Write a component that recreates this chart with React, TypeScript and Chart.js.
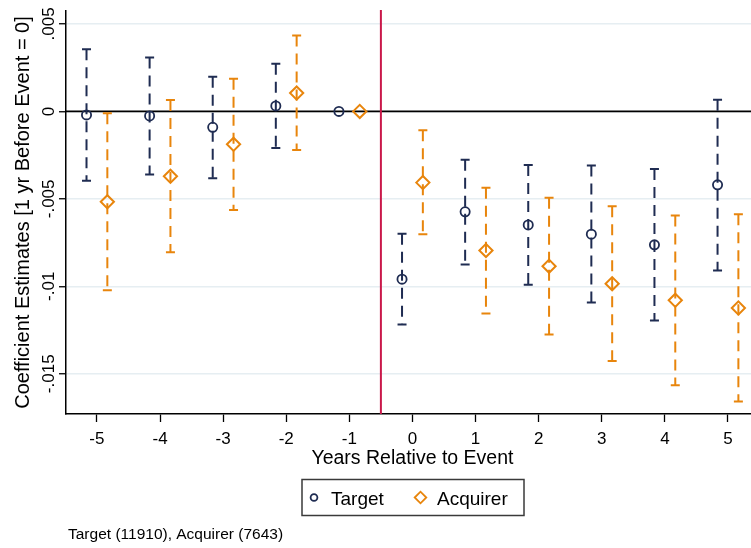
import React, { useEffect, useRef } from "react";
import { Chart, registerables } from "chart.js";

Chart.register(...registerables);

// ---- data ----
const YEARS = [-5, -4, -3, -2, -1, 0, 1, 2, 3, 4, 5];
const X_TICK_LABELS = ["-5", "-4", "-3", "-2", "-1", "0", "1", "2", "3", "4", "5"];
const Y_TICKS = [-0.015, -0.01, -0.005, 0, 0.005];
const Y_TICK_LABELS = ["-.015", "-.01", "-.005", "0", ".005"];

const TARGET_EST = [-0.0002, -0.00026, -0.00091, 0.00031, 0, -0.00959, -0.00574, -0.00649, -0.00702, -0.00763, -0.0042];
const TARGET_LO = [-0.00397, -0.00361, -0.00382, -0.00209, null, -0.01218, -0.00875, -0.00991, -0.01092, -0.01195, -0.00909];
const TARGET_HI = [0.00356, 0.00308, 0.00198, 0.00272, null, -0.007, -0.00276, -0.00306, -0.0031, -0.00329, 0.00067];

const ACQ_EST = [-0.00517, -0.00371, -0.00188, 0.00105, 0, -0.00407, -0.00795, -0.00885, -0.00985, -0.0108, -0.01124];
const ACQ_LO = [-0.01022, -0.00805, -0.00563, -0.0022, null, -0.00702, -0.01155, -0.01276, -0.01427, -0.01566, -0.01659];
const ACQ_HI = [-0.00011, 0.00065, 0.00187, 0.00434, null, -0.00108, -0.00436, -0.00494, -0.00542, -0.00595, -0.00588];

const SERIES_NAMES = ["Target", "Acquirer"];
const X_TITLE = "Years Relative to Event";
const Y_TITLE = "Coefficient Estimates [1 yr Before Event = 0]";
const NOTE = "Target (11910), Acquirer (7643)";
const EVENT_LINE = -0.5;

// ---- style ----
const TARGET_OFFSET = -0.165;
const ACQ_OFFSET = 0.165;
const NAVY = "#1f2c52";
const ORANGE = "#e8850c";
const RED = "#c9184a";
const GRID = "#e6eef2";
const FONT = '"Liberation Sans", Arial, Helvetica, sans-serif';

export default function App() {
  const ref = useRef<HTMLCanvasElement>(null);

  useEffect(() => {
    const canvas = ref.current;
    if (!canvas) return;

    const drawDiamond = (ctx: CanvasRenderingContext2D, x: number, y: number, r: number) => {
      ctx.beginPath();
      ctx.moveTo(x - r, y);
      ctx.lineTo(x, y - r);
      ctx.lineTo(x + r, y);
      ctx.lineTo(x, y + r);
      ctx.closePath();
      ctx.stroke();
    };

    const decorPlugin = {
      id: "decor",
      beforeDatasetsDraw(chart: any) {
        const { ctx, chartArea } = chart;
        const xs = chart.scales.x;
        const ys = chart.scales.y;
        ctx.save();
        // zero line
        const y0 = ys.getPixelForValue(0);
        ctx.strokeStyle = "#000";
        ctx.lineWidth = 1.6;
        ctx.beginPath();
        ctx.moveTo(chartArea.left, y0);
        ctx.lineTo(chartArea.right, y0);
        ctx.stroke();
        // event line
        const xe = xs.getPixelForValue(EVENT_LINE);
        ctx.strokeStyle = RED;
        ctx.lineWidth = 2;
        ctx.beginPath();
        ctx.moveTo(xe, chartArea.top - 1);
        ctx.lineTo(xe, chartArea.bottom);
        ctx.stroke();
        // error bars
        const series = [
          { off: TARGET_OFFSET, lo: TARGET_LO, hi: TARGET_HI, color: NAVY },
          { off: ACQ_OFFSET, lo: ACQ_LO, hi: ACQ_HI, color: ORANGE },
        ];
        series.forEach((s) => {
          ctx.strokeStyle = s.color;
          ctx.lineWidth = 2;
          YEARS.forEach((yr, i) => {
            const lo = s.lo[i];
            const hi = s.hi[i];
            if (lo === null || hi === null) return;
            const px = xs.getPixelForValue(yr + s.off);
            const pHi = ys.getPixelForValue(hi);
            const pLo = ys.getPixelForValue(lo);
            ctx.setLineDash([11, 7]);
            ctx.beginPath();
            ctx.moveTo(px, pHi);
            ctx.lineTo(px, pLo);
            ctx.stroke();
            ctx.setLineDash([]);
            ctx.beginPath();
            ctx.moveTo(px - 4.5, pHi);
            ctx.lineTo(px + 4.5, pHi);
            ctx.moveTo(px - 4.5, pLo);
            ctx.lineTo(px + 4.5, pLo);
            ctx.stroke();
          });
        });
        ctx.restore();
      },
      afterDraw(chart: any) {
        const { ctx, chartArea } = chart;
        const xs = chart.scales.x;
        const ys = chart.scales.y;
        ctx.save();
        ctx.fillStyle = "#000";
        // x tick labels
        ctx.font = `17px ${FONT}`;
        ctx.textAlign = "center";
        ctx.textBaseline = "alphabetic";
        YEARS.forEach((v, i) => {
          ctx.fillText(X_TICK_LABELS[i], xs.getPixelForValue(v), 443.5);
        });
        // y tick labels (rotated)
        Y_TICKS.forEach((v, i) => {
          ctx.save();
          ctx.translate(54, ys.getPixelForValue(v));
          ctx.rotate(-Math.PI / 2);
          ctx.textAlign = "center";
          ctx.fillText(Y_TICK_LABELS[i], 0, 0);
          ctx.restore();
        });
        // x title
        ctx.font = `19.5px ${FONT}`;
        ctx.textAlign = "center";
        ctx.fillText(X_TITLE, xs.getPixelForValue(0), 464);
        // y title
        ctx.save();
        ctx.font = `20px ${FONT}`;
        ctx.translate(28.5, (chartArea.top + chartArea.bottom) / 2);
        ctx.rotate(-Math.PI / 2);
        ctx.textAlign = "center";
        ctx.fillText(Y_TITLE, 0, 0);
        ctx.restore();
        // legend
        const lx = 302, ly = 479.5, lw = 222, lh = 36;
        ctx.strokeStyle = "#3a3a3a";
        ctx.lineWidth = 1.5;
        ctx.strokeRect(lx, ly, lw, lh);
        const cy = ly + lh / 2;
        ctx.strokeStyle = NAVY;
        ctx.lineWidth = 1.8;
        ctx.beginPath();
        ctx.arc(314, cy, 3.4, 0, Math.PI * 2);
        ctx.stroke();
        ctx.strokeStyle = ORANGE;
        ctx.lineWidth = 1.8;
        drawDiamond(ctx, 420.5, cy, 5.8);
        ctx.font = `19px ${FONT}`;
        ctx.textAlign = "left";
        ctx.fillStyle = "#000";
        ctx.fillText(SERIES_NAMES[0], 331, 505);
        ctx.fillText(SERIES_NAMES[1], 437, 505);
        // note
        ctx.font = `15.5px ${FONT}`;
        ctx.fillText(NOTE, 68, 538.5);
        ctx.restore();
      },
    };

    const chart = new Chart(canvas, {
      type: "scatter",
      data: {
        datasets: [
          {
            label: SERIES_NAMES[0],
            data: YEARS.map((yr, i) => ({ x: yr + TARGET_OFFSET, y: TARGET_EST[i] })),
            pointStyle: "circle",
            radius: 4.6,
            borderWidth: 1.8,
            borderColor: NAVY,
            backgroundColor: "rgba(0,0,0,0)",
            showLine: false,
          },
          {
            label: SERIES_NAMES[1],
            data: YEARS.map((yr, i) => ({ x: yr + ACQ_OFFSET, y: ACQ_EST[i] })),
            pointStyle: "rectRot",
            radius: 6.6,
            borderWidth: 2,
            borderColor: ORANGE,
            backgroundColor: "rgba(0,0,0,0)",
            showLine: false,
          },
        ],
      },
      options: {
        responsive: false,
        animation: false,
        devicePixelRatio: 1,
        layout: { autoPadding: false, padding: { top: 11, left: 0, right: 0, bottom: 0 } },
        plugins: {
          legend: { display: false },
          tooltip: { enabled: false },
          title: { display: false },
        },
        scales: {
          x: {
            type: "linear",
            min: -5.49,
            max: 5.365,
            afterBuildTicks: (s: any) => {
              s.ticks = YEARS.map((v) => ({ value: v }));
            },
            afterFit: (s: any) => {
              s.height = 134;
            },
            ticks: { display: false },
            grid: {
              drawOnChartArea: false,
              drawTicks: true,
              tickLength: 8,
              tickColor: "#000",
              tickWidth: 1.3,
            },
            border: { display: true, color: "#000", width: 1.5 },
          },
          y: {
            type: "linear",
            min: -0.0173,
            max: 0.00574,
            afterBuildTicks: (s: any) => {
              s.ticks = Y_TICKS.map((v) => ({ value: v }));
            },
            afterFit: (s: any) => {
              s.width = 66;
            },
            ticks: { display: false },
            grid: {
              color: GRID,
              lineWidth: 1.5,
              drawTicks: true,
              tickLength: 7,
              tickColor: "#000",
              tickWidth: 1.3,
            },
            border: { display: true, color: "#000", width: 1.5 },
          },
        },
      },
      plugins: [decorPlugin],
    } as any);

    return () => chart.destroy();
  }, []);

  return (
    <div style={{ position: "fixed", left: 0, top: 0, width: 751, height: 548, background: "#fff" }}>
      <canvas ref={ref} width={751} height={548} style={{ display: "block" }} />
    </div>
  );
}
